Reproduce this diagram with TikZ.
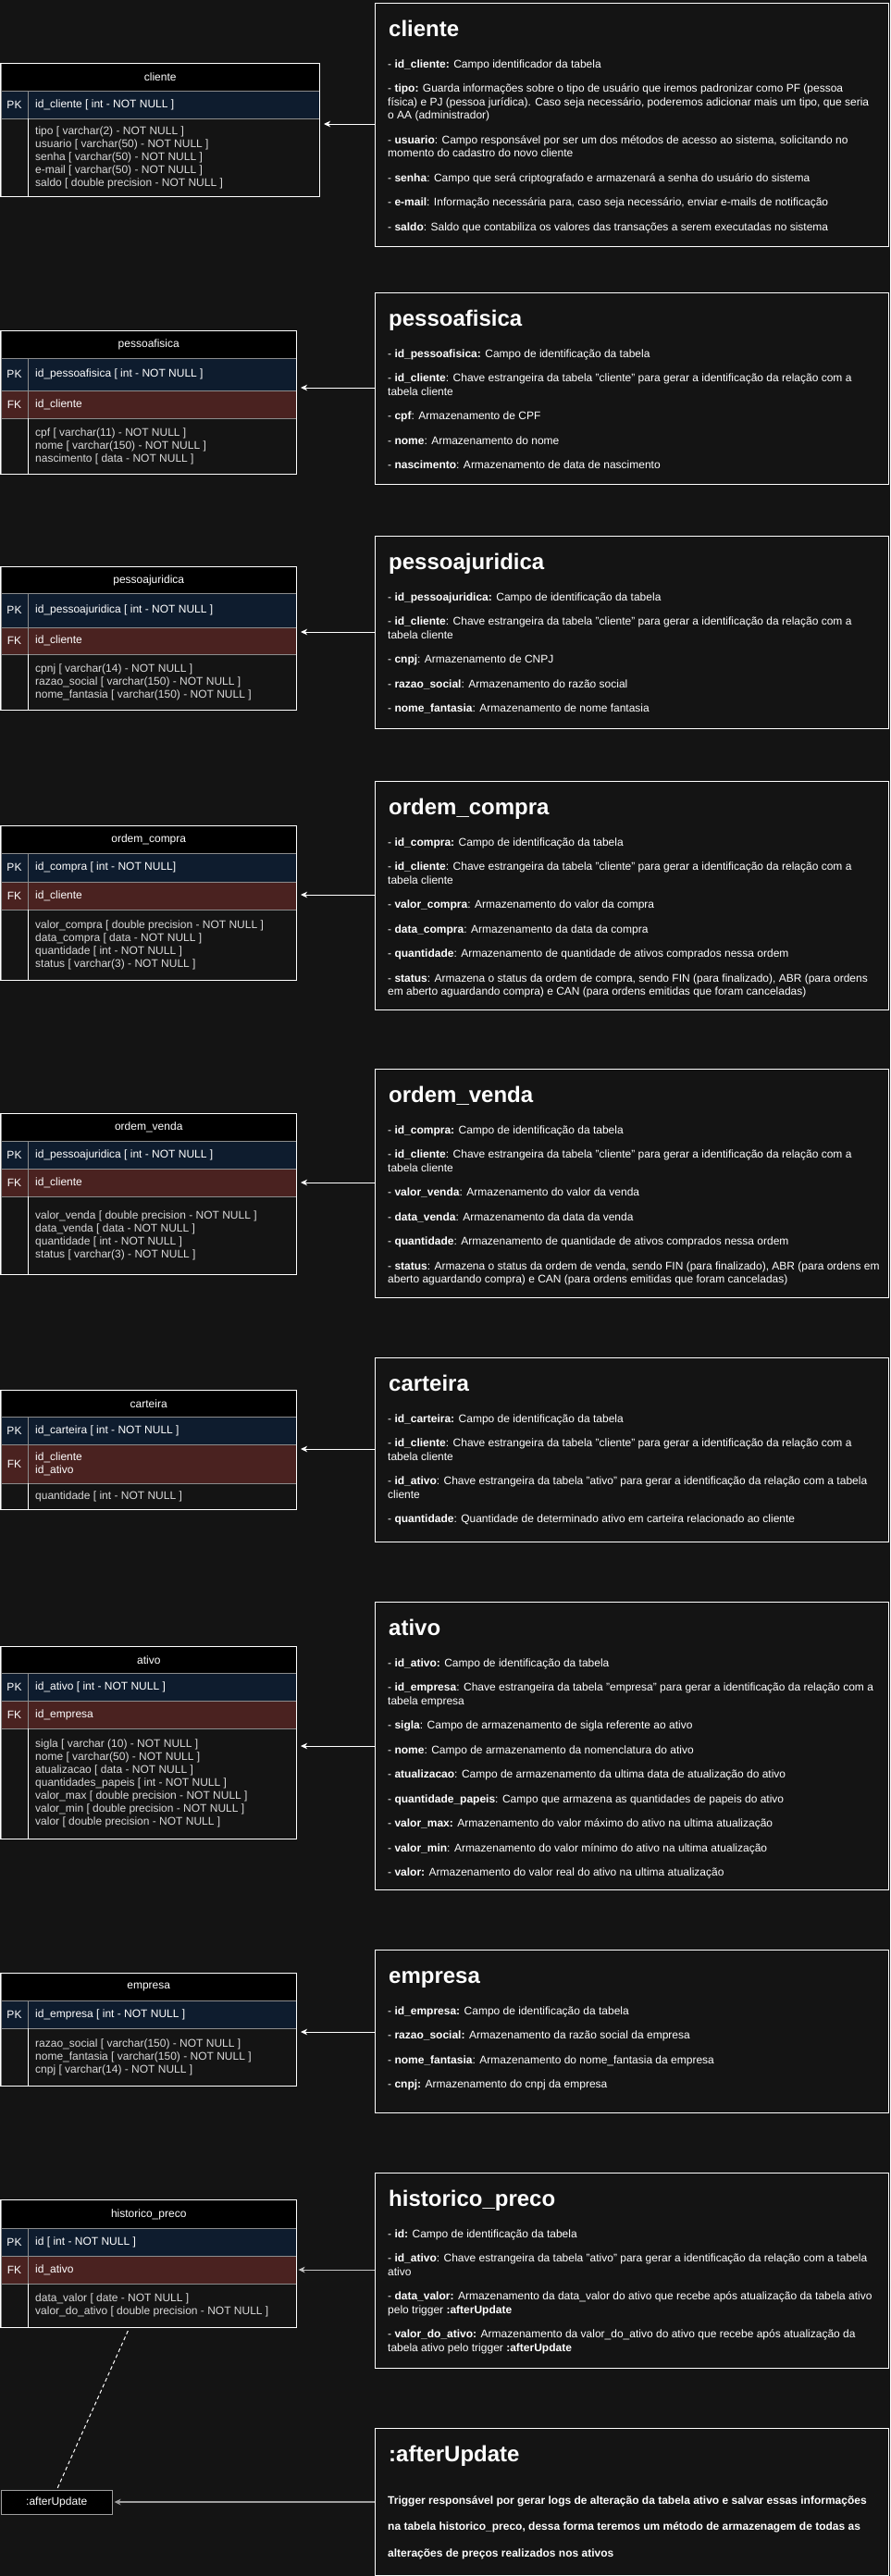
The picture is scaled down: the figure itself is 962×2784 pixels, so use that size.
\documentclass[tikz,border=0pt]{standalone}
\usepackage{fontspec}
\setmainfont{Liberation Sans}
\usetikzlibrary{arrows.meta,calc}

\definecolor{bgcol}{HTML}{141414}
\definecolor{pkcol}{HTML}{0E1C2E}
\definecolor{fkcol}{HTML}{4A2220}
\definecolor{sepcol}{HTML}{8C8C8C}
\definecolor{fieldgray}{HTML}{D9D9D9}
\definecolor{softarrow}{HTML}{C4C4C4}
\definecolor{dimarrow}{HTML}{9E9E9E}

\tikzset{
  twelve/.style={font=\fontsize{12}{14}\selectfont},
  erheadbox/.style={draw=sepcol, fill=black, text=white, inner sep=0pt, twelve, line width=1pt},
  pkrow/.style={draw=sepcol, fill=pkcol, inner sep=0pt, line width=1pt},
  fkrow/.style={draw=sepcol, fill=fkcol, inner sep=0pt, line width=1pt},
  fldrow/.style={draw=sepcol, fill=bgcol, inner sep=0pt, line width=1pt},
  keylbl/.style={text=white, inner sep=0pt, twelve},
  rowtxt/.style={text=white, inner sep=0pt, anchor=west, align=left, twelve},
  fldtxt/.style={text=fieldgray, inner sep=0pt, anchor=west, align=left, twelve},
  tabframe/.style={draw=white, line width=1pt},
  descbox/.style={draw=white, fill=bgcol, line width=1pt, inner sep=0pt, anchor=north west, minimum width=555pt},
  desctitle/.style={text=white, inner sep=0pt, anchor=base west, font=\fontsize{24}{28}\selectfont\bfseries},
  descbody/.style={text=white, inner sep=0pt, anchor=north west, align=left, font=\fontsize{12}{14.5}\selectfont},
  fkarrow/.style={draw=white, line width=1pt, -{Stealth[length=7pt,width=6.5pt,inset=2pt]}, shorten >=4pt},
}

% table header: name, right x, top, bottom, label
\newcommand\erhead[5]{%
  \pgfmathsetlengthmacro\erw{#2-0.5}%
  \pgfmathsetlengthmacro\erh{#4-#3}%
  \node[erheadbox, minimum width=\erw, minimum height=\erh, anchor=north west] (#1) at (0.5,#3) {#5};}
% key row: name, style, right x, top, bottom, key, text
\newcommand\erkey[7]{%
  \pgfmathsetlengthmacro\erw{#3-0.5}%
  \pgfmathsetlengthmacro\erh{#5-#4}%
  \node[#2, minimum width=\erw, minimum height=\erh, anchor=north west] (#1) at (0.5,#4) {};
  \node[keylbl] (#1k) at (15.5,{(#4+#5)/2}) {#6};
  \node[rowtxt] (#1t) at (38,{(#4+#5)/2}) {#7};
  \draw[draw=sepcol, line width=1pt] (30,#4) -- (30,#5);}
% plain field rows: name, right x, top, bottom, text
\newcommand\erfields[5]{%
  \pgfmathsetlengthmacro\erw{#2-0.5}%
  \pgfmathsetlengthmacro\erh{#4-#3}%
  \node[fldrow, minimum width=\erw, minimum height=\erh, anchor=north west] (#1) at (0.5,#3) {};
  \node[fldtxt] (#1t) at (38,{(#3+#4)/2}) {#5};
  \draw[draw=white, line width=1pt] (30,#3) -- (30,#4);}
% outer frame: right x, top, bottom
\newcommand\erframe[3]{\draw[tabframe] (0.5,#2) rectangle (#1,#3);}

\begin{document}
\begin{tikzpicture}[x=1pt, y=-1pt]
\useasboundingbox (0,0) rectangle (962,2784);
\fill[bgcol] (0,0) rectangle (962,2784);

% ---------------- tables ----------------
\erhead{cliH}{345}{68}{98}{cliente}
\erkey{cliP}{pkrow}{345}{98}{128}{PK}{id\_cliente [ int - NOT NULL ]}
\erfields{cliF}{345}{128}{212}{tipo [ varchar(2) - NOT NULL ]\\usuario [ varchar(50) - NOT NULL ]\\senha [ varchar(50) - NOT NULL ]\\e-mail [ varchar(50) - NOT NULL ]\\saldo [ double precision - NOT NULL ]}
\erframe{345}{68}{212}

\erhead{pfH}{320}{357}{387}{pessoafisica}
\erkey{pfP}{pkrow}{320}{387}{422}{PK}{id\_pessoafisica [ int - NOT NULL ]}
\erkey{pfK}{fkrow}{320}{422}{452}{FK}{id\_cliente}
\erfields{pfF}{320}{452}{512}{cpf [ varchar(11) - NOT NULL ]\\nome [ varchar(150) - NOT NULL ]\\nascimento [ data - NOT NULL ]}
\erframe{320}{357}{512}

\erhead{pjH}{320}{612}{641}{pessoajuridica}
\erkey{pjP}{pkrow}{320}{641}{678}{PK}{id\_pessoajuridica [ int - NOT NULL ]}
\erkey{pjK}{fkrow}{320}{678}{707}{FK}{id\_cliente}
\erfields{pjF}{320}{707}{767}{cpnj [ varchar(14) - NOT NULL ]\\razao\_social [ varchar(150) - NOT NULL ]\\nome\_fantasia [ varchar(150) - NOT NULL ]}
\erframe{320}{612}{767}

\erhead{ocH}{320}{892}{922}{ordem\_compra}
\erkey{ocP}{pkrow}{320}{922}{953}{PK}{id\_compra [ int - NOT NULL]}
\erkey{ocK}{fkrow}{320}{953}{983}{FK}{id\_cliente}
\erfields{ocF}{320}{983}{1059}{valor\_compra [ double precision - NOT NULL ]\\data\_compra [ data - NOT NULL ]\\quantidade [ int - NOT NULL ]\\status [ varchar(3) - NOT NULL ]}
\erframe{320}{892}{1059}

\erhead{ovH}{320}{1203}{1233}{ordem\_venda}
\erkey{ovP}{pkrow}{320}{1233}{1263}{PK}{id\_pessoajuridica [ int - NOT NULL ]}
\erkey{ovK}{fkrow}{320}{1263}{1293}{FK}{id\_cliente}
\erfields{ovF}{320}{1293}{1377}{valor\_venda [ double precision - NOT NULL ]\\data\_venda [ data - NOT NULL ]\\quantidade [ int - NOT NULL ]\\status [ varchar(3) - NOT NULL ]}
\erframe{320}{1203}{1377}

\erhead{caH}{320}{1502}{1531}{carteira}
\erkey{caP}{pkrow}{320}{1531}{1561}{PK}{id\_carteira [ int - NOT NULL ]}
\erkey{caK}{fkrow}{320}{1561}{1603}{FK}{id\_cliente\\id\_ativo}
\erfields{caF}{320}{1603}{1631}{quantidade [ int - NOT NULL ]}
\erframe{320}{1502}{1631}

\erhead{atH}{320}{1779}{1808}{ativo}
\erkey{atP}{pkrow}{320}{1808}{1838}{PK}{id\_ativo [ int - NOT NULL ]}
\erkey{atK}{fkrow}{320}{1838}{1868}{FK}{id\_empresa}
\erfields{atF}{320}{1868}{1987}{sigla [ varchar (10) - NOT NULL ]\\nome [ varchar(50) - NOT NULL ]\\atualizacao [ data - NOT NULL ]\\quantidades\_papeis [ int - NOT NULL ]\\valor\_max [ double precision - NOT NULL ]\\valor\_min [ double precision - NOT NULL ]\\valor [ double precision - NOT NULL ]}
\erframe{320}{1779}{1987}

\erhead{emH}{320}{2132}{2162}{empresa}
\erkey{emP}{pkrow}{320}{2162}{2192}{PK}{id\_empresa [ int - NOT NULL ]}
\erfields{emF}{320}{2192}{2254}{razao\_social [ varchar(150) - NOT NULL ]\\nome\_fantasia [ varchar(150) - NOT NULL ]\\cnpj [ varchar(14) - NOT NULL ]}
\erframe{320}{2132}{2254}

\erhead{hpH}{320}{2377}{2408}{historico\_preco}
\erkey{hpP}{pkrow}{320}{2408}{2438}{PK}{id [ int - NOT NULL ]}
\erkey{hpK}{fkrow}{320}{2438}{2468}{FK}{id\_ativo}
\erfields{hpF}{320}{2468}{2515}{data\_valor [ date - NOT NULL ]\\valor\_do\_ativo [ double precision - NOT NULL ]}
\erframe{320}{2377}{2515}

% trigger
\node[draw=dimarrow, fill=black, text=white, line width=1pt, inner sep=0pt, twelve,
      minimum width=120.5pt, minimum height=26pt, anchor=north west] (au) at (0.5,2691) {:afterUpdate};
\draw[white, line width=1pt, dash pattern=on 4pt off 3pt]
  ($(hpF.south west)!0.43!(hpF.south east)+(0,3)$) -- (au.north);

% ---------------- descriptions ----------------
\node[descbox, minimum height=263pt] (d1) at (405,3) {};
\node[desctitle] (d1t) at (420,39) {cliente};
\node[descbody] (d1b) at (419,63) {\strut- \textbf{id\_cliente:} Campo identificador da tabela\\[12pt]
- \textbf{tipo:} Guarda informações sobre o tipo de usuário que iremos padronizar como PF (pessoa\\
física) e PJ (pessoa jurídica). Caso seja necessário, poderemos adicionar mais um tipo, que seria\\
o AA (administrador)\\[12pt]
- \textbf{usuario}: Campo responsável por ser um dos métodos de acesso ao sistema, solicitando no\\
momento do cadastro do novo cliente\\[12pt]
- \textbf{senha}: Campo que será criptografado e armazenará a senha do usuário do sistema\\[12pt]
- \textbf{e-mail}: Informação necessária para, caso seja necessário, enviar e-mails de notificação\\[12pt]
- \textbf{saldo}: Saldo que contabiliza os valores das transações a serem executadas no sistema};

\node[descbox, minimum height=207pt] (d2) at (405,316) {};
\node[desctitle] (d2t) at (420,352) {pessoafisica};
\node[descbody] (d2b) at (419,376) {\strut- \textbf{id\_pessoafisica:} Campo de identificação da tabela\\[12pt]
- \textbf{id\_cliente}: Chave estrangeira da tabela "cliente" para gerar a identificação da relação com a\\
tabela cliente\\[12pt]
- \textbf{cpf}: Armazenamento de CPF\\[12pt]
- \textbf{nome}: Armazenamento do nome\\[12pt]
- \textbf{nascimento}: Armazenamento de data de nascimento};

\node[descbox, minimum height=208pt] (d3) at (405,579) {};
\node[desctitle] (d3t) at (420,615) {pessoajuridica};
\node[descbody] (d3b) at (419,639) {\strut- \textbf{id\_pessoajuridica:} Campo de identificação da tabela\\[12pt]
- \textbf{id\_cliente}: Chave estrangeira da tabela "cliente" para gerar a identificação da relação com a\\
tabela cliente\\[12pt]
- \textbf{cnpj}: Armazenamento de CNPJ\\[12pt]
- \textbf{razao\_social}: Armazenamento do razão social\\[12pt]
- \textbf{nome\_fantasia}: Armazenamento de nome fantasia};

\node[descbox, minimum height=247pt] (d4) at (405,844) {};
\node[desctitle] (d4t) at (420,880) {ordem\_compra};
\node[descbody] (d4b) at (419,904) {\strut- \textbf{id\_compra:} Campo de identificação da tabela\\[12pt]
- \textbf{id\_cliente}: Chave estrangeira da tabela "cliente" para gerar a identificação da relação com a\\
tabela cliente\\[12pt]
- \textbf{valor\_compra}: Armazenamento do valor da compra\\[12pt]
- \textbf{data\_compra}: Armazenamento da data da compra\\[12pt]
- \textbf{quantidade}: Armazenamento de quantidade de ativos comprados nessa ordem\\[12pt]
- \textbf{status}: Armazena o status da ordem de compra, sendo FIN (para finalizado), ABR (para ordens\\
em aberto aguardando compra) e CAN (para ordens emitidas que foram canceladas)};

\node[descbox, minimum height=247pt] (d5) at (405,1155) {};
\node[desctitle] (d5t) at (420,1191) {ordem\_venda};
\node[descbody] (d5b) at (419,1215) {\strut- \textbf{id\_compra:} Campo de identificação da tabela\\[12pt]
- \textbf{id\_cliente}: Chave estrangeira da tabela "cliente" para gerar a identificação da relação com a\\
tabela cliente\\[12pt]
- \textbf{valor\_venda}: Armazenamento do valor da venda\\[12pt]
- \textbf{data\_venda}: Armazenamento da data da venda\\[12pt]
- \textbf{quantidade}: Armazenamento de quantidade de ativos comprados nessa ordem\\[12pt]
- \textbf{status}: Armazena o status da ordem de venda, sendo FIN (para finalizado), ABR (para ordens em\\
aberto aguardando compra) e CAN (para ordens emitidas que foram canceladas)};

\node[descbox, minimum height=199pt] (d6) at (405,1467) {};
\node[desctitle] (d6t) at (420,1503) {carteira};
\node[descbody] (d6b) at (419,1527) {\strut- \textbf{id\_carteira:} Campo de identificação da tabela\\[12pt]
- \textbf{id\_cliente}: Chave estrangeira da tabela "cliente" para gerar a identificação da relação com a\\
tabela cliente\\[12pt]
- \textbf{id\_ativo}: Chave estrangeira da tabela "ativo" para gerar a identificação da relação com a tabela\\
cliente\\[12pt]
- \textbf{quantidade}: Quantidade de determinado ativo em carteira relacionado ao cliente};

\node[descbox, minimum height=311pt] (d7) at (405,1731) {};
\node[desctitle] (d7t) at (420,1767) {ativo};
\node[descbody] (d7b) at (419,1791) {\strut- \textbf{id\_ativo:} Campo de identificação da tabela\\[12pt]
- \textbf{id\_empresa}: Chave estrangeira da tabela "empresa" para gerar a identificação da relação com a\\
tabela empresa\\[12pt]
- \textbf{sigla}: Campo de armazenamento de sigla referente ao ativo\\[12pt]
- \textbf{nome}: Campo de armazenamento da nomenclatura do ativo\\[12pt]
- \textbf{atualizacao}: Campo de armazenamento da ultima data de atualização do ativo\\[12pt]
- \textbf{quantidade\_papeis}: Campo que armazena as quantidades de papeis do ativo\\[12pt]
- \textbf{valor\_max:} Armazenamento do valor máximo do ativo na ultima atualização\\[12pt]
- \textbf{valor\_min}: Armazenamento do valor mínimo do ativo na ultima atualização\\[12pt]
- \textbf{valor:} Armazenamento do valor real do ativo na ultima atualização};

\node[descbox, minimum height=176pt] (d8) at (405,2107) {};
\node[desctitle] (d8t) at (420,2143) {empresa};
\node[descbody] (d8b) at (419,2167) {\strut- \textbf{id\_empresa:} Campo de identificação da tabela\\[12pt]
- \textbf{razao\_social:} Armazenamento da razão social da empresa\\[12pt]
- \textbf{nome\_fantasia}: Armazenamento do nome\_fantasia da empresa\\[12pt]
- \textbf{cnpj:} Armazenamento do cnpj da empresa};

\node[descbox, minimum height=211pt] (d9) at (405,2348) {};
\node[desctitle] (d9t) at (420,2384) {historico\_preco};
\node[descbody] (d9b) at (419,2408) {\strut- \textbf{id:} Campo de identificação da tabela\\[12pt]
- \textbf{id\_ativo}: Chave estrangeira da tabela "ativo" para gerar a identificação da relação com a tabela\\
ativo\\[12pt]
- \textbf{data\_valor:} Armazenamento da data\_valor do ativo que recebe após atualização da tabela ativo\\
pelo trigger \textbf{:afterUpdate}\\[12pt]
- \textbf{valor\_do\_ativo:} Armazenamento da valor\_do\_ativo do ativo que recebe após atualização da\\
tabela ativo pelo trigger \textbf{:afterUpdate}};

\node[descbox, minimum height=159pt] (d10) at (405,2624) {};
\node[desctitle] (d10t) at (420,2660) {:afterUpdate};
\node[descbody, font=\fontsize{12}{28.5}\selectfont\bfseries] (d10b) at (419,2686) {\strut Trigger responsável por gerar logs de alteração da tabela ativo e salvar essas informações\\
na tabela historico\_preco, dessa forma teremos um método de armazenagem de todas as\\
alterações de preços realizados nos ativos};

% ---------------- connectors ----------------
\coordinate (ar1) at (0,134);
\coordinate (ar2) at (0,419);
\coordinate (ar3) at (0,683);
\coordinate (ar4) at (0,967);
\coordinate (ar5) at (0,1278);
\coordinate (ar6) at (0,1566);
\coordinate (ar7) at (0,1887);
\coordinate (ar8) at (0,2196);
\coordinate (ar9) at (0,2453);
\coordinate (ar10) at (0,2704);
\draw[fkarrow] (d1.west |- ar1) -- (cliH.east |- ar1);
\draw[fkarrow] (d2.west |- ar2) -- (pfH.east |- ar2);
\draw[fkarrow] (d3.west |- ar3) -- (pjH.east |- ar3);
\draw[fkarrow] (d4.west |- ar4) -- (ocH.east |- ar4);
\draw[fkarrow] (d5.west |- ar5) -- (ovH.east |- ar5);
\draw[fkarrow] (d6.west |- ar6) -- (caH.east |- ar6);
\draw[fkarrow] (d7.west |- ar7) -- (atH.east |- ar7);
\draw[fkarrow] (d8.west |- ar8) -- (emH.east |- ar8);
\draw[fkarrow, draw=softarrow, shorten >=1.5pt] (d9.west |- ar9) -- (hpH.east |- ar9);
\draw[fkarrow, draw=dimarrow, line width=1.3pt, shorten >=1.5pt] (d10.west |- ar10) -- (au.east |- ar10);
\end{tikzpicture}
\end{document}
